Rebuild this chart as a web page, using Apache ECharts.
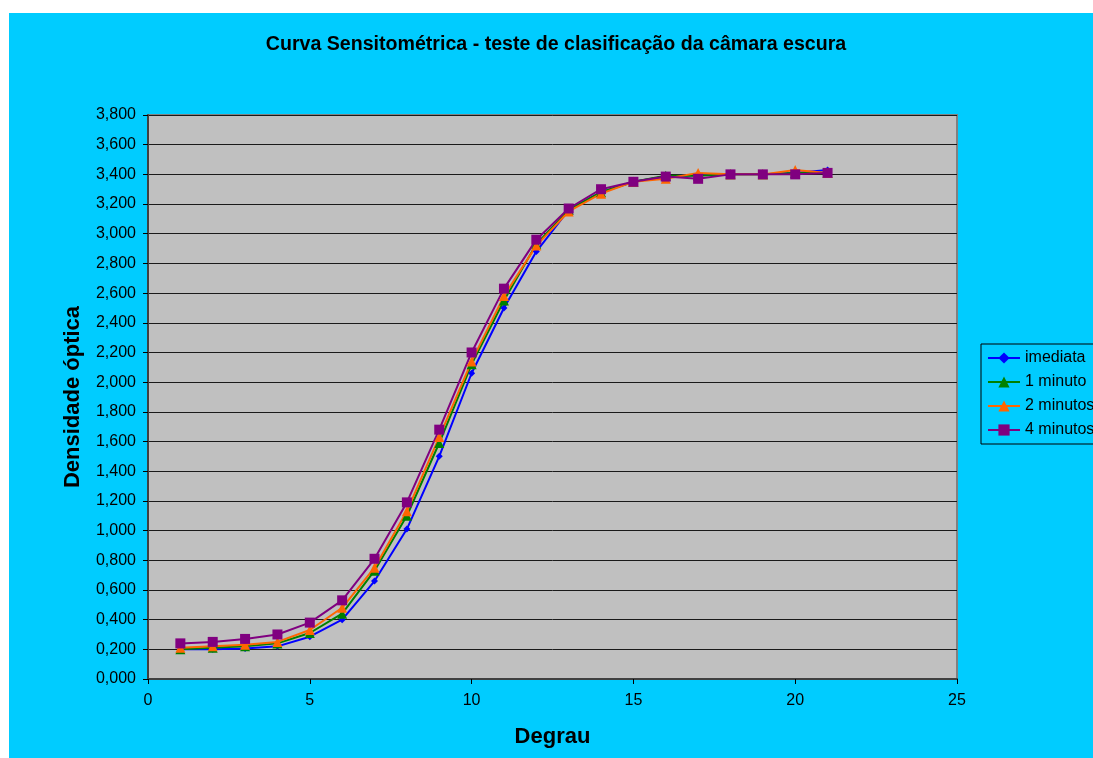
<!DOCTYPE html>
<html>
<head>
<meta charset="utf-8">
<script src="https://cdn.jsdelivr.net/npm/echarts@6/dist/echarts.min.js"></script>
<style>
html,body{margin:0;padding:0;background:#fff;width:1093px;height:758px;overflow:hidden;}
#chart{position:absolute;left:9px;top:13px;width:1084px;height:745px;}
</style>
</head>
<body>
<div id="chart"></div>
<script>
const degraus = [1,2,3,4,5,6,7,8,9,10,11,12,13,14,15,16,17,18,19,20,21];
const imediata = [0.20,0.20,0.205,0.22,0.285,0.40,0.66,1.01,1.50,2.06,2.50,2.88,3.16,3.28,3.35,3.385,3.395,3.40,3.40,3.41,3.43];
const umMinuto = [0.20,0.21,0.22,0.24,0.31,0.44,0.73,1.10,1.59,2.12,2.55,2.93,3.16,3.28,3.35,3.39,3.39,3.40,3.40,3.41,3.41];
const doisMinutos = [0.21,0.22,0.23,0.25,0.33,0.48,0.75,1.13,1.63,2.14,2.58,2.92,3.15,3.27,3.35,3.37,3.41,3.40,3.40,3.43,3.41];
const quatroMinutos = [0.24,0.25,0.27,0.30,0.38,0.53,0.81,1.19,1.68,2.20,2.63,2.96,3.17,3.30,3.35,3.385,3.37,3.40,3.40,3.40,3.41];
const seriesNames = ['imediata','1 minuto','2 minutos','4 minutos'];

const FONT = "'Liberation Sans', Arial, sans-serif";
const pairs = arr => degraus.map((d,i)=>[d, arr[i]]);

function mk(name, arr, color, symbol, size){
  return {
    name, type:'line', data: pairs(arr),
    symbol, symbolSize:size, showSymbol:true,
    lineStyle:{color, width:2},
    itemStyle:{color, borderWidth:0},
    emphasis:{disabled:true},
    animation:false
  };
}

const chart = echarts.init(document.getElementById('chart'), null, {renderer:'canvas'});
chart.setOption({
  backgroundColor:'#00CCFF',
  animation:false,
  textStyle:{fontFamily:FONT},
  title:{
    text:'Curva Sensitométrica - teste de clasificação da câmara escura',
    left:547, top:22, padding:0, textAlign:'center',
    textStyle:{fontFamily:FONT, fontSize:19.6, fontWeight:'bold', color:'#000'}
  },
  legend:{
    orient:'vertical', left:972, top:331,
    data:seriesNames,
    backgroundColor:'#00CCFF', borderColor:'#000', borderWidth:1,
    padding:[6,40,6,6], itemGap:8, itemWidth:32, itemHeight:14,
    textStyle:{fontFamily:FONT, fontSize:16, color:'#000', lineHeight:16}
  },
  grid:{left:139, top:102, right:136, bottom:79, show:true,
        backgroundColor:'#C0C0C0', borderColor:'#808080', borderWidth:2},
  xAxis:{
    type:'value', min:0, max:25, interval:5,
    name:'Degrau', nameLocation:'middle', nameGap:47,
    nameTextStyle:{fontFamily:FONT, fontSize:22, fontWeight:'bold', color:'#000'},
    axisLine:{show:true, onZero:false, lineStyle:{color:'#404040', width:2}},
    axisTick:{show:true, inside:false, length:5, lineStyle:{color:'#000'}},
    axisLabel:{margin:14, fontFamily:FONT, fontSize:16, color:'#000'},
    splitLine:{show:false}
  },
  yAxis:{
    type:'value', min:0, max:3.8, interval:0.2,
    name:'Densidade óptica', nameLocation:'middle', nameGap:64,
    nameTextStyle:{fontFamily:FONT, fontSize:22, fontWeight:'bold', color:'#000'},
    axisLine:{show:true, lineStyle:{color:'#404040', width:2}},
    axisTick:{show:true, inside:false, length:5, lineStyle:{color:'#000'}},
    axisLabel:{margin:12, fontFamily:FONT, fontSize:16, color:'#000',
      formatter:v=>v.toFixed(3).replace('.',',')},
    splitLine:{show:true, lineStyle:{color:'#1a1a1a', width:1}}
  },
  series:[
    mk(seriesNames[0], imediata, '#0000FF', 'diamond', 7),
    mk(seriesNames[1], umMinuto, '#008000', 'triangle', 10),
    mk(seriesNames[2], doisMinutos, '#FF6600', 'triangle', 10),
    mk(seriesNames[3], quatroMinutos, '#800080', 'rect', 10)
  ]
});
</script>
</body>
</html>
